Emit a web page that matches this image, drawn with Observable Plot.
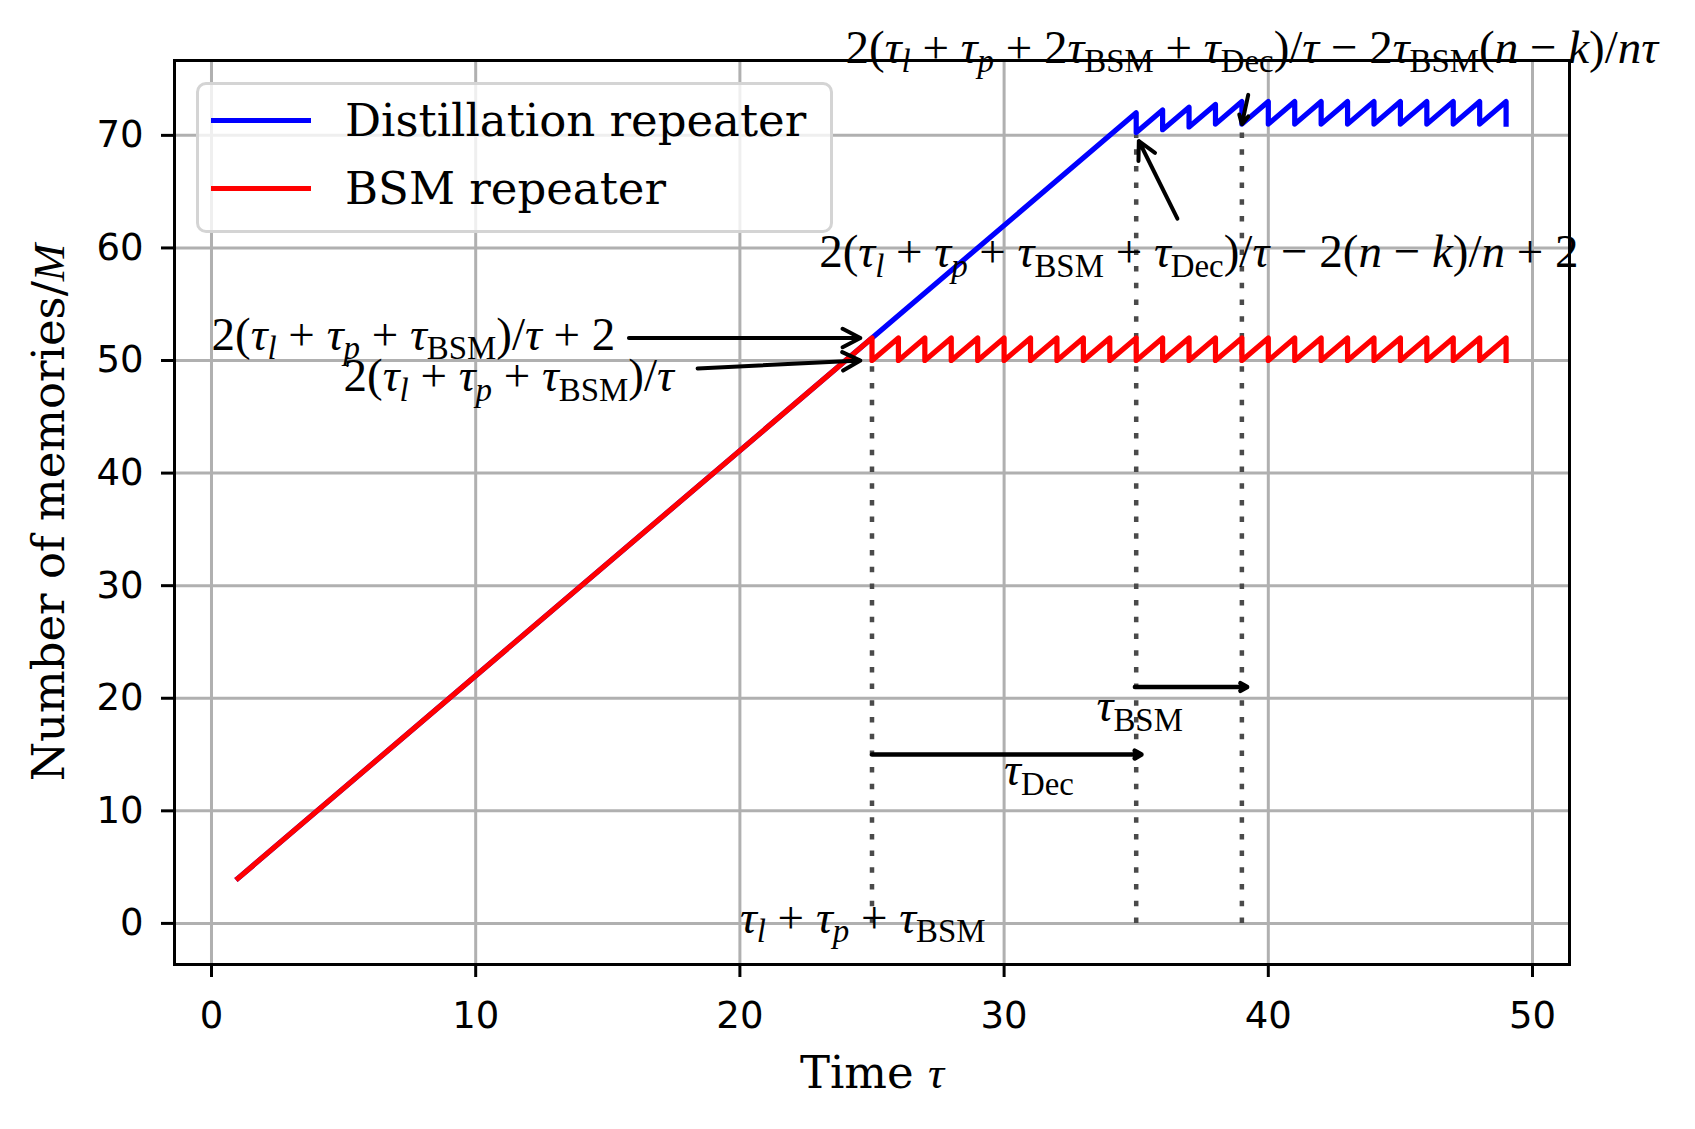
<!DOCTYPE html>
<html>
<head>
<meta charset="utf-8">
<script src="https://cdn.jsdelivr.net/npm/d3@7"></script>
<script src="https://cdn.jsdelivr.net/npm/@observablehq/plot@0.6"></script>
<style>
  html, body { margin: 0; padding: 0; background: white; }
  #wrap { position: relative; width: 1695px; height: 1129px; overflow: hidden; }
  #legend { position: absolute; left: 196px; top: 82px; width: 637px; height: 151px; box-sizing: border-box;
            border: 3px solid #d4d4d4; border-radius: 10px; background: rgba(255,255,255,0.8); }
  .sw { position: absolute; height: 5px; width: 100px; left: 211px; }
  .lt { position: absolute; left: 345px; font-family: "DejaVu Serif"; font-size: 45px; line-height: 50px; color: black; white-space: nowrap; }
</style>
</head>
<body>
<div id="wrap"></div>
<script>
// ---- data ----
const xTicks = [0, 10, 20, 30, 40, 50];
const yTicks = [0, 10, 20, 30, 40, 50, 60, 70];

const blueName = "Distillation repeater";
const blueTime = [1, 35, 35, 36, 36, 37, 37, 38, 38, 39, 39, 40, 40, 41, 41, 42, 42, 43, 43, 44, 44, 45, 45, 46, 46, 47, 47, 48, 48, 49, 49];
const blueMem  = [4, 72, 70.25, 72.25, 70.5, 72.5, 70.75, 72.75, 71, 73, 71, 73, 71, 73, 71, 73, 71, 73, 71, 73, 71, 73, 71, 73, 71, 73, 71, 73, 71, 73, 71];

const redName = "BSM repeater";
const redTime = [1, 25, 25, 26, 26, 27, 27, 28, 28, 29, 29, 30, 30, 31, 31, 32, 32, 33, 33, 34, 34, 35, 35, 36, 36, 37, 37, 38, 38, 39, 39, 40, 40, 41, 41, 42, 42, 43, 43, 44, 44, 45, 45, 46, 46, 47, 47, 48, 48, 49, 49];
const redMem  = [4, 52, 50, 52, 50, 52, 50, 52, 50, 52, 50, 52, 50, 52, 50, 52, 50, 52, 50, 52, 50, 52, 50, 52, 50, 52, 50, 52, 50, 52, 50, 52, 50, 52, 50, 52, 50, 52, 50, 52, 50, 52, 50, 52, 50, 52, 50, 52, 50, 52, 50];

// dotted markers (time, top)
const markerTime = [25, 35, 39];
const markerTop  = [50, 70, 71];

// annotation texts
const annLabels = [
  "$2(τ_{l} + τ_{p} + τ_{BSM})/τ + 2$",
  "$2(τ_{l} + τ_{p} + τ_{BSM})/τ$",
  "$2(τ_{l} + τ_{p} + τ_{BSM} + τ_{Dec})/τ − 2(n − k)/n + 2$",
  "$2(τ_{l} + τ_{p} + 2τ_{BSM} + τ_{Dec})/τ − 2τ_{BSM}(n − k)/nτ$",
  "$τ_{Dec}$",
  "$τ_{BSM}$",
  "$τ_{l} + τ_{p} + τ_{BSM}$"
];
const annX = [0, 5, 23, 24, 30, 33.5, 20];
const annY = [52.3, 48.6, 59.6, 77.8, 13.6, 19.3, 0.5];

// annotation arrows
const arrowX1 = [15.8, 18.4, 36.56, 39.24];
const arrowY1 = [52, 49.3, 62.6, 73.6];
const arrowX2 = [24.56, 24.56, 35.1, 39.0];
const arrowY2 = [52, 50.0, 69.5, 71.0];

// duration arrows
const spanX1 = [25, 34.95];
const spanX2 = [35.2, 39.2];
const spanY  = [15, 21];

const xLabel = "Time $τ$";
const yLabel = "Number of memories/$M$";

// ---- tables ----
const blue = blueTime.map((t, i) => ({t, v: blueMem[i]}));
const red = redTime.map((t, i) => ({t, v: redMem[i]}));
const markers = markerTime.map((x, i) => ({x, top: markerTop[i]}));
const anns = annLabels.map((s, i) => ({s, x: annX[i], y: annY[i]}));
const arrows = arrowX1.map((x1, i) => ({x1, y1: arrowY1[i], x2: arrowX2[i], y2: arrowY2[i]}));
const spans = spanX1.map((x1, i) => ({x1, x2: spanX2[i], y: spanY[i]}));

const chart = Plot.plot({
  width: 1695, height: 1129,
  marginLeft: 174, marginRight: 126, marginTop: 60, marginBottom: 165,
  x: {domain: [-1.4, 51.4]},
  y: {domain: [-3.65, 76.65]},
  style: {fontFamily: "DejaVu Sans", fontSize: "37px", background: "white", overflow: "visible", color: "black"},
  marks: [
    Plot.gridX(xTicks, {stroke: "#b0b0b0", strokeOpacity: 1, strokeWidth: 3}),
    Plot.gridY(yTicks, {stroke: "#b0b0b0", strokeOpacity: 1, strokeWidth: 3}),
    Plot.ruleX(markers, {x: "x", y1: 0, y2: "top", stroke: "#4a4a4a", strokeWidth: 4.5, strokeDasharray: "5.5 11.2"}),
    Plot.line(blue, {x: "t", y: "v", stroke: "#0000ff", strokeWidth: 5.2, strokeLinejoin: "round", strokeLinecap: "square"}),
    Plot.line(red, {x: "t", y: "v", stroke: "#ff0000", strokeWidth: 5.2, strokeLinejoin: "round", strokeLinecap: "square"}),
    Plot.arrow(arrows, {x1: "x1", y1: "y1", x2: "x2", y2: "y2", stroke: "black", strokeWidth: 4, headLength: 7.5, headAngle: 55}),
    Plot.arrow(spans, {x1: "x1", y1: "y", x2: "x2", y2: "y", stroke: "black", strokeWidth: 4.5, headLength: 2.6, headAngle: 60}),
    Plot.text(anns, {x: "x", y: "y", text: "s", textAnchor: "start", lineAnchor: "middle", fontFamily: "Liberation Serif", fontSize: 47, fill: "black"}),
    Plot.frame({stroke: "black", strokeWidth: 3}),
    Plot.axisX(xTicks, {tickSize: 13, tickPadding: 24, strokeWidth: 3, label: null, tickFormat: d => String(d)}),
    Plot.axisY(yTicks, {tickSize: 13, tickPadding: 18, strokeWidth: 3, label: null, tickFormat: d => String(d)}),
    Plot.text([xLabel], {frameAnchor: "bottom", dy: 109.5, textAnchor: "middle", lineAnchor: "middle", fontFamily: "DejaVu Serif", fontSize: 45, fill: "black"}),
    Plot.text([yLabel], {frameAnchor: "left", dx: -125.4, rotate: -90, textAnchor: "middle", lineAnchor: "middle", fontFamily: "DejaVu Serif", fontSize: 45, fill: "black"})
  ]
});

const wrap = document.getElementById("wrap");
wrap.appendChild(chart);

// rich text: $...$ = math (italic letters, _{...} subscripts)
const NS = "http://www.w3.org/2000/svg";
function renderRich(el) {
  const src = el.textContent;
  if (!src.includes("$")) return;
  const base = parseFloat(getComputedStyle(el).fontSize) || 45;
  while (el.firstChild) el.removeChild(el.firstChild);
  let shift = 0;
  const add = (txt, o) => {
    if (!txt) return;
    const ts = document.createElementNS(NS, "tspan");
    const target = o.sub ? base * 0.2 : 0;
    if (target !== shift) { ts.setAttribute("dy", target - shift); shift = target; }
    if (o.math) ts.setAttribute("font-family", "Liberation Serif");
    if (o.italic) ts.setAttribute("font-style", "italic");
    if (o.sub) ts.setAttribute("font-size", base * 0.7);
    ts.textContent = txt;
    el.appendChild(ts);
  };
  const parts = src.split("$");
  parts.forEach((p, k) => {
    if (k % 2 === 0) { add(p, {}); return; }
    let i = 0;
    while (i < p.length) {
      if (p[i] === "_" && p[i + 1] === "{") {
        const j = p.indexOf("}", i);
        const s = p.slice(i + 2, j);
        add(s, {math: true, sub: true, italic: s.length === 1});
        i = j + 1;
      } else {
        let j = i;
        const isL = /[A-Za-zα-ω]/.test(p[i]);
        while (j < p.length && !(p[j] === "_" && p[j + 1] === "{") && /[A-Za-zα-ω]/.test(p[j]) === isL) j++;
        add(p.slice(i, j), {math: true, italic: isL});
        i = j;
      }
    }
  });
}
chart.querySelectorAll("text").forEach(renderRich);

// legend overlay
const legendItems = [{name: blueName, color: "#0000ff", y: 120}, {name: redName, color: "#ff0000", y: 188.3}];
const lg = document.createElement("div");
lg.id = "legend";
wrap.appendChild(lg);
legendItems.forEach(d => {
  const sw = document.createElement("div");
  sw.className = "sw";
  sw.style.top = (d.y - 2.5) + "px";
  sw.style.background = d.color;
  wrap.appendChild(sw);
  const t = document.createElement("div");
  t.className = "lt";
  t.style.top = (d.y - 24) + "px";
  t.textContent = d.name;
  wrap.appendChild(t);
});
</script>
</body>
</html>
